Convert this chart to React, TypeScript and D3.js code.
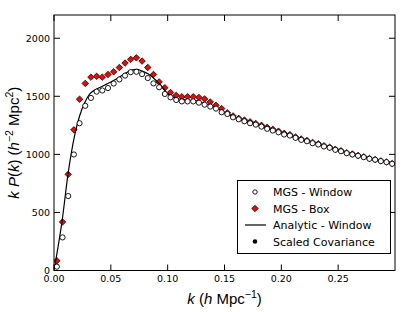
import * as d3 from "d3";

// k bins of the measured spectra (h/Mpc)
const kGrid = [
  0.0025, 0.0075, 0.0125, 0.0175, 0.0225, 0.0275, 0.0325, 0.0375, 0.0425, 0.0475,
  0.0525, 0.0575, 0.0625, 0.0675, 0.0725, 0.0775, 0.0825, 0.0875, 0.0925, 0.0975,
  0.1025, 0.1075, 0.1125, 0.1175, 0.1225, 0.1275, 0.1325, 0.1375, 0.1425, 0.1475,
  0.1525, 0.1575, 0.1625, 0.1675, 0.1725, 0.1775, 0.1825, 0.1875, 0.1925, 0.1975,
  0.2025, 0.2075, 0.2125, 0.2175, 0.2225, 0.2275, 0.2325, 0.2375, 0.2425, 0.2475,
  0.2525, 0.2575, 0.2625, 0.2675, 0.2725, 0.2775, 0.2825, 0.2875, 0.2925, 0.2975,
];

const mgsWindow = [
  33, 285, 641, 999, 1268, 1418, 1486, 1540, 1550, 1571,
  1610, 1645, 1678, 1708, 1711, 1691, 1657, 1611, 1578, 1520,
  1491, 1468, 1456, 1456, 1456, 1445, 1428, 1411, 1394, 1362,
  1348, 1319, 1302, 1285, 1268, 1256, 1239, 1220, 1205, 1190,
  1171, 1162, 1142, 1125, 1113, 1096, 1085, 1068, 1057, 1039,
  1027, 1010, 999, 988, 976, 962, 954, 942, 933, 919,
];

const mgsBox = [
  84, 418, 828, 1211, 1475, 1611, 1665, 1672, 1665, 1688,
  1711, 1748, 1786, 1818, 1831, 1803, 1748, 1688, 1624, 1574,
  1533, 1508, 1496, 1496, 1496, 1490, 1477, 1451, 1422, 1394,
  1358, 1331, 1310, 1295, 1280, 1265, 1250, 1233, 1216, 1200,
  1181, 1170, 1150, 1132, 1120, 1103, 1091, 1074, 1062, 1044,
  1031, 1014, 1003, 991, 979, 965, 956, 944, 935, 921,
];

const analyticK = [
  0, 0.0015, 0.007, 0.0123, 0.0183, 0.0225, 0.0272, 0.0315, 0.0359, 0.0403,
  0.0462, 0.0521, 0.058, 0.0639, 0.0683, 0.0727, 0.0771, 0.083, 0.0889, 0.0933,
  0.0975, 0.1, 0.105, 0.11, 0.115, 0.12, 0.125, 0.13, 0.135, 0.14, 0.145,
  0.15, 0.155, 0.16, 0.17, 0.18, 0.19, 0.2, 0.21, 0.22, 0.23,
  0.24, 0.25, 0.26, 0.27, 0.28, 0.29, 0.3,
];

const analyticP = [
  0, 84, 418, 828, 1170, 1330, 1448, 1520, 1554, 1576,
  1605, 1634, 1668, 1705, 1725, 1731, 1719, 1691, 1645, 1603,
  1552, 1522, 1493, 1477, 1470, 1466, 1460, 1447, 1431, 1412, 1388,
  1363, 1340, 1315, 1281, 1252, 1217, 1185, 1157, 1124, 1095,
  1067, 1038, 1009, 987, 963, 942, 920,
];

const xTicks = [0, 0.05, 0.1, 0.15, 0.2, 0.25];
const yTicks = [0, 500, 1000, 1500, 2000];
const legendLabels = ["MGS - Window", "MGS - Box", "Analytic - Window", "Scaled Covariance"];

export default function App() {
  const width = 415;
  const height = 312;
  const left = 54;
  const right = 395;
  const top = 15;
  const bottom = 270.5;

  const x = d3.scaleLinear().domain([0, 0.3]).range([left, right]);
  const y = d3.scaleLinear().domain([0, 2200]).range([bottom, top]);

  const line = d3
    .line<number>()
    .x((_, i) => x(analyticK[i]))
    .y((d) => y(d))
    .curve(d3.curveMonotoneX);

  const diamond = d3.symbol(d3.symbolSquare, 21)()!;
  const tick = 6;
  const tickFont = "DejaVu Sans, sans-serif";
  const labelFont = "Liberation Sans, Arial, sans-serif";

  const lg = { x: 237, y: 180, w: 153, h: 73 };
  const rowY = [192, 208.5, 225, 241.5];

  return (
    <svg
      width={width}
      height={height}
      style={{ position: "absolute", left: 0, top: 0, background: "#fff" }}
    >
      <defs>
        <clipPath id="plot">
          <rect x={left} y={top} width={right - left} height={bottom - top} />
        </clipPath>
      </defs>

      <g clipPath="url(#plot)">
        {mgsBox.map((v, i) => (
          <path
            key={"b" + i}
            d={diamond}
            transform={`translate(${x(kGrid[i])},${y(v)}) rotate(45)`}
            fill="#ff0000"
            stroke="#000"
            strokeWidth={0.7}
          />
        ))}
        <path d={line(analyticP)!} fill="none" stroke="#000" strokeWidth={1.2} />
        {mgsWindow.map((v, i) => (
          <circle
            key={"w" + i}
            cx={x(kGrid[i])}
            cy={y(v)}
            r={2.6}
            fill="#fff"
            stroke="#000"
            strokeWidth={0.9}
          />
        ))}
      </g>

      {/* frame */}
      <rect
        x={left}
        y={top}
        width={right - left}
        height={bottom - top}
        fill="none"
        stroke="#000"
        strokeWidth={1}
      />

      {/* ticks, inward on all four sides */}
      {xTicks.map((t) => (
        <g key={"xt" + t}>
          <line x1={x(t)} x2={x(t)} y1={bottom} y2={bottom - tick} stroke="#000" />
          <line x1={x(t)} x2={x(t)} y1={top} y2={top + tick} stroke="#000" />
          <text
            x={x(t)}
            y={281.5}
            textAnchor="middle"
            fontFamily={tickFont}
            fontSize={9.5}
            fill="#000"
          >
            {t.toFixed(2)}
          </text>
        </g>
      ))}
      {yTicks.map((t) => (
        <g key={"yt" + t}>
          <line x1={left} x2={left + tick} y1={y(t)} y2={y(t)} stroke="#000" />
          <line x1={right} x2={right - tick} y1={y(t)} y2={y(t)} stroke="#000" />
          <text
            x={50}
            y={y(t) + 3.4}
            textAnchor="end"
            fontFamily={tickFont}
            fontSize={9.5}
            fill="#000"
          >
            {t}
          </text>
        </g>
      ))}

      {/* axis labels */}
      <text
        x={(left + right) / 2}
        y={304}
        textAnchor="middle"
        fontFamily={labelFont}
        fontSize={15}
        fill="#000"
      >
        <tspan fontStyle="italic">k</tspan>
        <tspan> (</tspan>
        <tspan fontStyle="italic">h</tspan>
        <tspan> Mpc</tspan>
        <tspan fontSize={10.5} dy={-6}>−1</tspan>
        <tspan dy={6}>)</tspan>
      </text>
      <text
        transform={`translate(19,${(top + bottom) / 2}) rotate(-90)`}
        textAnchor="middle"
        fontFamily={labelFont}
        fontSize={15}
        fill="#000"
      >
        <tspan fontStyle="italic">k P</tspan>
        <tspan>(</tspan>
        <tspan fontStyle="italic">k</tspan>
        <tspan>) (</tspan>
        <tspan fontStyle="italic">h</tspan>
        <tspan fontSize={10.5} dy={-6}>−2</tspan>
        <tspan dy={6}> Mpc</tspan>
        <tspan fontSize={10.5} dy={-6}>2</tspan>
        <tspan dy={6}>)</tspan>
      </text>

      {/* legend */}
      <rect
        x={lg.x + 0.5}
        y={lg.y + 0.5}
        width={lg.w}
        height={lg.h}
        fill="#fff"
        stroke="#000"
        strokeWidth={1}
      />
      <circle cx={255} cy={rowY[0]} r={2.2} fill="#fff" stroke="#000" strokeWidth={0.9} />
      <path
        d={diamond}
        transform={`translate(255,${rowY[1]}) rotate(45)`}
        fill="#ff0000"
        stroke="#000"
        strokeWidth={0.7}
      />
      <line x1={245} x2={266} y1={rowY[2]} y2={rowY[2]} stroke="#000" strokeWidth={1.2} />
      <circle cx={255} cy={rowY[3]} r={2.3} fill="#000" />
      {legendLabels.map((l, i) => (
        <text
          key={l}
          x={273}
          y={rowY[i] + 4}
          fontFamily={tickFont}
          fontSize={11}
          fill="#000"
        >
          {l}
        </text>
      ))}
    </svg>
  );
}
